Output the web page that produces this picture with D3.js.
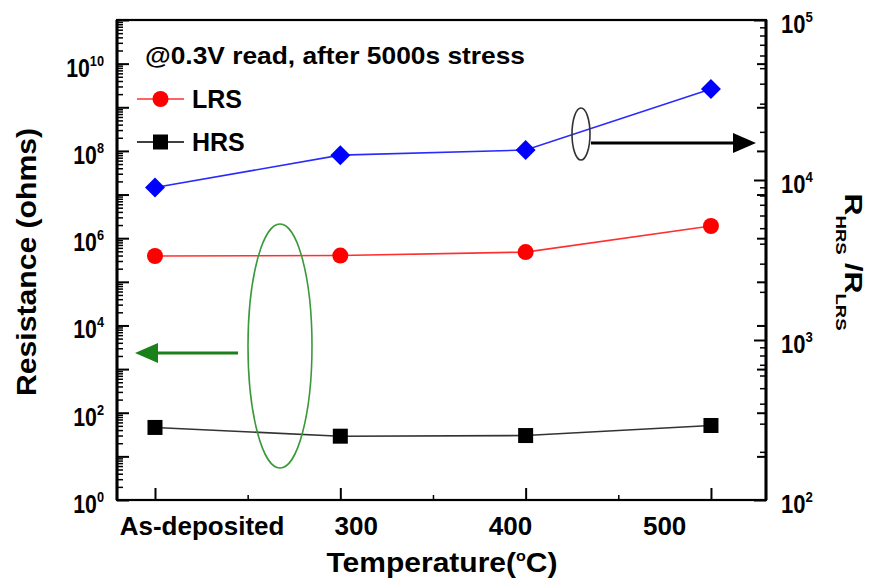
<!DOCTYPE html>
<html><head><meta charset="utf-8">
<script src="https://cdn.jsdelivr.net/npm/d3@7"></script>
<style>
body{margin:0;background:#fff}
svg{display:block}
text{font-family:"Liberation Sans",Arial,Helvetica,sans-serif;font-weight:bold;fill:#000}
</style></head><body>
<svg id="chart" width="871" height="583"></svg>
<script>
// Read-out resistance and HRS/LRS ratio versus anneal temperature
const categories = ["As-deposited", "300", "400", "500"];
const tempPos = [200, 300, 400, 500];          // position of each condition on the temperature axis
const lrs = [3.9e5, 4.0e5, 4.8e5, 1.9e6];      // ohms
const hrs = [46, 29, 30, 51];                  // ohms
const ratio = [8980, 14300, 15400, 37000];     // R_HRS / R_LRS
const leftExps = [0, 2, 4, 6, 8, 10];
const rightExps = [2, 3, 4, 5];
const majorTemps = [200, 300, 400, 500];
const minorTemps = [250, 350, 450];

const W = 871, H = 583;
const M = {left: 117, right: 766, top: 20, bottom: 500};
const svg = d3.select("#chart");

const x = d3.scaleLinear().domain([179.5, 529.7]).range([M.left, M.right]);
const yL = d3.scaleLog().domain([1, 1e11]).range([M.bottom, M.top]);
const yR = d3.scaleLog().domain([1e2, 1e5]).range([M.bottom, M.top]);
// tick labels sit spread evenly under the axis
const xLab = d3.scalePoint().domain(categories).range([x(225.4), x(475)]);

function decades(lo, hi) { return d3.range(lo, hi + 1).map(e => Math.pow(10, e)); }
function minors(lo, hi) {
  const out = [];
  for (let e = lo; e < hi; e++) for (let k = 2; k <= 9; k++) out.push(k * Math.pow(10, e));
  return out;
}
function clean(g, w) {
  g.select(".domain").remove();
  g.selectAll(".tick line").attr("stroke", "#000").attr("stroke-width", w);
}

// ---- ticks (all pointing into the plot) ----
svg.append("g").attr("transform", `translate(${M.left},0)`)
  .call(d3.axisLeft(yL).tickValues(decades(0, 11)).tickSize(-12).tickFormat(""))
  .call(g => clean(g, 2));
svg.append("g").attr("transform", `translate(${M.left},0)`)
  .call(d3.axisLeft(yL).tickValues(minors(0, 11)).tickSize(-6).tickFormat(""))
  .call(g => clean(g, 1.5));

svg.append("g").attr("transform", `translate(${M.right},0)`)
  .call(d3.axisRight(yR).tickValues(decades(2, 5)).tickSize(-12).tickFormat(""))
  .call(g => clean(g, 2));
svg.append("g").attr("transform", `translate(${M.right},0)`)
  .call(d3.axisRight(yR).tickValues(minors(2, 5)).tickSize(-6).tickFormat(""))
  .call(g => clean(g, 1.5));
// mirrored resistance decades on the right edge
svg.append("g").attr("transform", `translate(${M.right},0)`)
  .call(d3.axisRight(yL).tickValues(decades(1, 10)).tickSize(-9).tickFormat(""))
  .call(g => clean(g, 2));

svg.append("g").attr("transform", `translate(0,${M.bottom})`)
  .call(d3.axisBottom(x).tickValues(majorTemps).tickSize(-12).tickFormat(""))
  .call(g => clean(g, 2));
svg.append("g").attr("transform", `translate(0,${M.bottom})`)
  .call(d3.axisBottom(x).tickValues(minorTemps).tickSize(-5).tickFormat(""))
  .call(g => clean(g, 1.5));

// ---- frame ----
svg.append("rect").attr("x", M.left).attr("y", M.top)
  .attr("width", M.right - M.left).attr("height", M.bottom - M.top)
  .attr("fill", "none").attr("stroke", "#000").attr("stroke-width", 2.2);
svg.append("line").attr("x1", M.left).attr("x2", M.left).attr("y1", M.top).attr("y2", M.bottom)
  .attr("stroke", "#000").attr("stroke-width", 3);
svg.append("line").attr("x1", M.right).attr("x2", M.right).attr("y1", M.top).attr("y2", M.bottom)
  .attr("stroke", "#000").attr("stroke-width", 3);

// ---- tick labels ----
const powLabel = (sel, exps, scale, px, anchor, sx) => {
  const t = sel.selectAll(null).data(exps).enter().append("text")
    .attr("transform", e => `translate(${px},${scale(Math.pow(10, e)) + 13}) scale(${sx},1)`)
    .attr("text-anchor", anchor);
  t.append("tspan").attr("font-size", 25).text("10");
  t.append("tspan").attr("font-size", 15).attr("dy", -11).text(e => e);
};
powLabel(svg.append("g"), leftExps, yL, 104, "end", 0.85);
powLabel(svg.append("g"), rightExps, yR, 781, "start", 0.88);

svg.append("g").selectAll("text").data(categories).enter().append("text")
  .attr("x", d => xLab(d)).attr("y", 535)
  .attr("text-anchor", "middle").attr("font-size", 26)
  .text(d => d);

// ---- axis titles ----
const xt = svg.append("text").attr("x", 442).attr("y", 572)
  .attr("text-anchor", "middle").attr("font-size", 28)
  .attr("textLength", 231).attr("lengthAdjust", "spacingAndGlyphs");
xt.append("tspan").text("Temperature(");
xt.append("tspan").attr("font-size", 15).attr("dy", -11).text("o");
xt.append("tspan").attr("dy", 11).text("C)");

svg.append("text").attr("transform", "translate(36,262) rotate(-90)")
  .attr("text-anchor", "middle").attr("font-size", 27)
  .attr("textLength", 268).attr("lengthAdjust", "spacingAndGlyphs")
  .text("Resistance (ohms)");

const rt = svg.append("text").attr("transform", "translate(845,262) rotate(90)")
  .attr("text-anchor", "middle").attr("font-size", 23)
  .attr("textLength", 137).attr("lengthAdjust", "spacingAndGlyphs");
rt.append("tspan").text("R");
rt.append("tspan").attr("font-size", 14).attr("dy", 9).text("HRS");
rt.append("tspan").attr("dy", -9).text(" /R");
rt.append("tspan").attr("font-size", 14).attr("dy", 9).text("LRS");

// ---- series ----
const lineFor = (vals, scale) => d3.line()
  .x((d, i) => x(tempPos[i])).y(d => scale(d))(vals);

svg.append("path").attr("d", lineFor(hrs, yL))
  .attr("fill", "none").attr("stroke", "#333").attr("stroke-width", 1.6);
svg.append("path").attr("d", lineFor(lrs, yL))
  .attr("fill", "none").attr("stroke", "#ff3030").attr("stroke-width", 1.6);
svg.append("path").attr("d", lineFor(ratio, yR))
  .attr("fill", "none").attr("stroke", "#2a2aff").attr("stroke-width", 1.6);

svg.append("g").selectAll("rect").data(hrs).enter().append("rect")
  .attr("x", (d, i) => x(tempPos[i]) - 7.5).attr("y", d => yL(d) - 7.5)
  .attr("width", 15).attr("height", 15).attr("fill", "#000");
svg.append("g").selectAll("circle").data(lrs).enter().append("circle")
  .attr("cx", (d, i) => x(tempPos[i])).attr("cy", d => yL(d)).attr("r", 8)
  .attr("fill", "#ff0000");
svg.append("g").selectAll("path").data(ratio).enter().append("path")
  .attr("transform", (d, i) => `translate(${x(tempPos[i])},${yR(d)})`)
  .attr("d", "M0,-10L10,0L0,10L-10,0Z").attr("fill", "#0000ff");

// ---- legend & note ----
svg.append("text").attr("x", 145).attr("y", 64).attr("font-size", 24)
  .attr("textLength", 380).attr("lengthAdjust", "spacingAndGlyphs")
  .text("@0.3V read, after 5000s stress");

const leg = [{name: "LRS", y: 99}, {name: "HRS", y: 142}];
leg.forEach((l, i) => {
  svg.append("line").attr("x1", 137).attr("x2", 184).attr("y1", l.y).attr("y2", l.y)
    .attr("stroke", i === 0 ? "#ff3030" : "#000").attr("stroke-width", 1.6);
  if (i === 0) svg.append("circle").attr("cx", 160.5).attr("cy", l.y).attr("r", 8).attr("fill", "#ff0000");
  else svg.append("rect").attr("x", 153).attr("y", l.y - 7.5).attr("width", 15).attr("height", 15).attr("fill", "#000");
  svg.append("text").attr("x", 192).attr("y", l.y + 9).attr("font-size", 25).text(l.name);
});

// ---- axis pointers ----
svg.append("ellipse").attr("cx", 280).attr("cy", 346).attr("rx", 32).attr("ry", 122)
  .attr("fill", "none").attr("stroke", "#3a9a3a").attr("stroke-width", 1.6);
svg.append("line").attr("x1", 238).attr("x2", 152).attr("y1", 353).attr("y2", 353)
  .attr("stroke", "#1a801a").attr("stroke-width", 3);
svg.append("path").attr("d", "M135,353L158,343L158,363Z").attr("fill", "#1a801a");

svg.append("ellipse").attr("cx", 581).attr("cy", 134).attr("rx", 9).attr("ry", 26)
  .attr("fill", "none").attr("stroke", "#333").attr("stroke-width", 1.6);
svg.append("line").attr("x1", 591).attr("x2", 738).attr("y1", 143).attr("y2", 143)
  .attr("stroke", "#000").attr("stroke-width", 3);
svg.append("path").attr("d", "M756,143L733,133L733,153Z").attr("fill", "#000");
</script>
</body></html>
